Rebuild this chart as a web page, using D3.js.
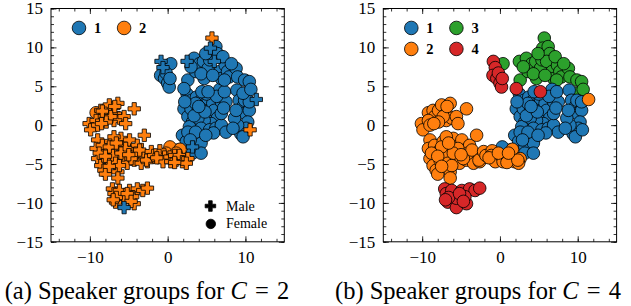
<!DOCTYPE html>
<html>
<head>
<meta charset="utf-8">
<script src="https://cdn.jsdelivr.net/npm/d3@7"></script>
<style>
  body { margin: 0; background: #fff; }
  svg { display: block; }
</style>
</head>
<body>
<svg id="fig" width="631" height="306"></svg>
<script>
const W = 631, H = 306;

const xDomain = [-15, 15];
const yDomain = [-15, 15];
const xMajor = [-10, 0, 10];
const xTickLabels = ['\u221210', '0', '10'];
const yMajor = [-15, -10, -5, 0, 5, 10, 15];
const yTickLabels = ['\u221215', '\u221210', '\u22125', '0', '5', '10', '15'];
const xMinor = d3.range(-14, 15, 2);
const yMinor = d3.range(-15, 16, 1);

const palette = ['#1f77b4', '#ff7f0e', '#2ca02c', '#d62728'];
const captions = ['Speaker groups for ', 'Speaker groups for '];
const captionC = ['2', '4'];

// t-SNE points, grouped by C=4 cluster. rows: [x, y, sex, group for C=2]
const group4_1 = [
  [2.1,2.1,'F',1],[2.5,4.0,'F',1],[3.1,3.2,'F',1],[3.7,3.6,'F',1],[2.6,1.1,'F',1],
  [3.2,0.4,'F',1],[3.0,2.1,'F',1],[3.9,1.7,'F',1],[4.3,3.2,'F',1],[4.7,2.4,'F',1],
  [5.2,3.4,'F',1],[5.4,1.3,'F',1],[5.8,2.8,'F',1],[6.0,1.9,'F',1],[6.7,4.6,'F',1],
  [6.9,3.0,'F',1],[7.5,3.0,'F',1],[6.4,0.9,'F',1],[5.6,0.2,'F',1],[4.7,0.6,'F',1],
  [3.9,0.9,'F',1],[4.3,-0.4,'F',1],[5.4,-0.6,'F',1],[6.2,-0.4,'F',1],[6.9,0.0,'F',1],
  [7.5,-0.9,'F',1],[6.9,1.5,'F',1],[3.6,2.8,'F',1],[2.8,-0.2,'F',1],[2.2,3.0,'F',1],
  [3.4,1.2,'F',1],[4.8,1.7,'F',1],[5.0,4.0,'F',1],[4.0,2.4,'F',1],[6.3,3.7,'F',1],
  [7.3,4.3,'F',1],[4.4,4.3,'F',1],[5.9,-1.0,'F',1],[7.2,2.2,'F',1],
  [8.9,4.5,'F',1],[9.2,3.2,'F',1],[9.7,2.4,'F',1],[9.9,1.5,'F',1],[10.5,1.9,'F',1],
  [10.3,0.4,'F',1],[10.1,-0.4,'F',1],[9.4,-1.1,'F',1],[9.7,-1.5,'F',1],[9.0,0.0,'F',1],
  [8.6,0.9,'F',1],[9.9,3.2,'F',1],[8.8,1.9,'F',1],[8.4,-0.4,'F',1],[10.5,3.0,'F',1],
  [10.6,-0.6,'M',2],
  [1.9,-1.3,'F',1],[2.4,-2.1,'F',1],[3.2,-2.8,'M',1],[4.3,-2.3,'F',1],[3.2,-3.6,'F',1],
  [4.3,-3.6,'F',1],[2.6,-0.9,'F',1],[3.6,-0.9,'F',1],[4.9,-1.3,'F',1],[2.9,-1.9,'F',1],
  [1.3,-3.2,'F',2],[0.3,-2.8,'F',2]
];

const group4_2 = [
  [-10.1,0.2,'M',2],[-9.9,-0.6,'M',2],[-9.2,1.6,'F',2],[-8.6,1.9,'M',2],[-8.4,1.1,'M',2],
  [-7.9,1.9,'M',2],[-7.5,2.6,'M',2],[-6.9,1.5,'M',2],[-6.4,2.8,'M',2],[-6.9,0.6,'M',2],
  [-6.2,0.9,'M',2],[-5.6,1.1,'M',2],[-5.4,0.2,'M',2],[-4.3,2.1,'M',2],[-9.2,0.6,'M',2],
  [-7.3,1.1,'M',2],[-9.0,0.0,'M',2],[-7.9,0.4,'M',2],[-6.8,2.4,'M',2],[-8.5,0.2,'M',2],
  [-9.0,-1.9,'M',2],[-9.2,-3.0,'M',2],[-9.0,-4.3,'M',2],[-8.6,-5.2,'M',2],[-8.2,-5.8,'M',2],
  [-8.4,-2.6,'M',2],[-7.9,-3.4,'M',2],[-7.7,-4.5,'M',2],[-7.3,-2.1,'M',2],[-6.9,-3.0,'M',2],
  [-7.1,-3.9,'M',2],[-6.7,-4.9,'M',2],[-6.4,-6.0,'M',2],[-6.0,-1.7,'M',2],[-5.8,-2.8,'M',2],
  [-5.6,-4.1,'M',2],[-5.2,-4.9,'M',2],[-4.9,-1.9,'M',2],[-4.5,-3.2,'M',2],[-4.3,-4.5,'M',2],
  [-3.9,-2.6,'M',2],[-3.2,-3.9,'M',2],[-3.0,-1.3,'M',2],[-3.4,-4.9,'M',2],[-2.6,-4.7,'M',2],
  [-1.7,-4.1,'M',2],[-6.2,-5.2,'M',2],[-5.4,-3.0,'M',2],[-7.5,-2.8,'M',2],[-4.1,-3.6,'M',2],
  [-8.8,-3.6,'M',2],[-6.9,-1.5,'M',2],[-4.7,-4.3,'M',2],[-3.6,-3.2,'M',2],[-8.0,-6.3,'M',2],
  [-6.4,-6.8,'M',2],[-8.0,-4.0,'M',2],[-6.0,-3.6,'M',2],[-5.0,-3.8,'M',2],[-7.5,-5.3,'M',2],
  [-6.6,-2.3,'M',2],[-2.7,-4.5,'M',2],
  [-2.1,-3.4,'M',2],[-1.8,-3.9,'M',2],[-1.0,-3.3,'M',2],[-1.1,-3.9,'M',2],[-0.4,-4.1,'M',2],
  [-0.6,-4.7,'M',2],[-1.4,-4.2,'M',2],[0.3,-4.1,'M',2],[0.4,-4.7,'M',2],[0.9,-3.9,'M',2],
  [1.1,-4.5,'M',2],[1.5,-3.9,'M',2],[1.9,-4.7,'M',2],[2.6,-4.3,'M',2],[2.4,-4.9,'M',2],
  [0.9,-4.8,'M',2],[-0.2,-3.6,'F',2],[1.6,-3.1,'F',2],[2.3,-4.5,'F',2],[1.1,-3.6,'F',2],
  [11.4,3.3,'M',1]
];

const group4_3 = [
  [2.5,8.2,'M',1],[2.6,5.8,'F',1],[3.4,8.6,'F',1],[3.6,6.9,'F',1],[4.1,7.9,'F',1],
  [4.6,8.2,'F',1],[4.7,6.0,'F',1],[5.2,7.3,'F',1],[5.4,8.4,'F',1],[5.7,11.2,'M',2],
  [5.5,9.9,'M',1],[6.2,10.1,'F',1],[6.4,9.2,'F',1],[6.0,8.2,'M',1],[6.7,6.9,'F',1],
  [6.9,6.0,'F',1],[7.4,7.7,'F',1],[7.7,6.9,'F',1],[7.9,6.2,'F',1],[8.8,7.3,'F',1],
  [9.0,6.2,'F',1],[9.9,5.8,'F',1],[10.5,5.6,'F',1],[9.7,4.1,'F',1],[10.7,4.6,'F',1],
  [4.3,6.6,'F',1],[3.0,7.5,'F',1],[5.8,6.4,'F',1],[7.1,8.8,'F',1],[4.9,9.2,'F',1],
  [8.2,7.9,'F',1],[7.3,5.8,'F',1],[0.4,7.9,'F',1],[-8.4,1.8,'M',2]
];

const group4_4 = [
  [-7.1,-8.2,'M',2],[-6.9,-8.8,'M',2],[-6.7,-9.9,'M',2],[-5.6,-10.6,'M',1],[-6.2,-8.4,'M',2],
  [-4.9,-8.4,'M',2],[-4.3,-10.1,'M',2],[-5.6,-9.4,'M',2],[-3.9,-8.2,'M',2],[-3.2,-8.4,'M',2],
  [-2.6,-8.1,'M',2],[-4.5,-9.2,'M',2],[-6.6,-9.3,'M',2],[-5.2,-8.8,'M',2],[-7.0,-9.6,'M',2],
  [-4.7,-9.8,'M',2],
  [-0.85,8.2,'M',1],[-0.6,7.4,'M',1],[-0.9,6.4,'F',1],[-0.4,6.0,'F',1],[0.0,5.4,'F',1],
  [0.2,4.9,'F',1],[-0.2,6.7,'F',1],[0.3,6.0,'F',1],
  [2.1,4.7,'F',1],[5.2,4.3,'F',1]
];

const points = [];
[group4_1, group4_2, group4_3, group4_4].forEach((grp, k) => {
  grp.forEach(r => points.push({x: r[0], y: r[1], sex: r[2], c2: r[3], c4: k + 1}));
});

const serif = '"Liberation Serif", "Times New Roman", serif';
const plotTop = 8.5, plotSize = 233.3;
const circleR = 6.3;

const svg = d3.select('#fig');

function plusPath(s, a) {
  return `M${-a},${-s}H${a}V${-a}H${s}V${a}H${a}V${s}H${-a}V${a}H${-s}V${-a}H${-a}Z`;
}

function makePanel(x0) {
  const x = d3.scaleLinear().domain(xDomain).range([x0, x0 + plotSize]);
  const y = d3.scaleLinear().domain(yDomain).range([plotTop + plotSize, plotTop]);
  const g = svg.append('g');
  return {x, y, g};
}

function addAxes(p) {
  const {x, y, g} = p;
  const yb = y(yDomain[0]), yt = y(yDomain[1]), xl = x(xDomain[0]), xr = x(xDomain[1]);
  const put = (axis, tr, labels) => {
    const a = g.append('g').attr('transform', tr).call(axis);
    a.select('.domain').remove();
    a.selectAll('line').attr('stroke', '#000').attr('stroke-width', 0.8);
    if (labels) a.selectAll('text').attr('font-family', serif).attr('font-size', 17).attr('fill', '#000');
    else a.selectAll('text').remove();
  };
  put(d3.axisBottom(x).tickValues(xMinor).tickSize(-3), `translate(0,${yb})`, false);
  put(d3.axisTop(x).tickValues(xMinor).tickSize(-3), `translate(0,${yt})`, false);
  put(d3.axisLeft(y).tickValues(yMinor).tickSize(-3), `translate(${xl},0)`, false);
  put(d3.axisRight(y).tickValues(yMinor).tickSize(-3), `translate(${xr},0)`, false);
  put(d3.axisTop(x).tickValues(xMajor).tickSize(-5.5), `translate(0,${yt})`, false);
  put(d3.axisRight(y).tickValues(yMajor).tickSize(-5.5), `translate(${xr},0)`, false);
  put(d3.axisBottom(x).tickValues(xMajor).tickSize(-5.5).tickPadding(9)
      .tickFormat((d, i) => xTickLabels[i]), `translate(0,${yb})`, true);
  put(d3.axisLeft(y).tickValues(yMajor).tickSize(-5.5).tickPadding(8)
      .tickFormat((d, i) => yTickLabels[i]), `translate(${xl},0)`, true);
  g.append('rect').attr('x', xl).attr('y', yt).attr('width', xr - xl).attr('height', yb - yt)
    .attr('fill', 'none').attr('stroke', '#000').attr('stroke-width', 1);
}

function drawMark(sel, d, fill, isPlus, scale) {
  if (isPlus) {
    sel.append('path').attr('d', plusPath(6.2 * scale, 2.1 * scale))
      .attr('transform', `translate(${d[0]},${d[1]})`)
      .attr('fill', fill).attr('stroke', '#000').attr('stroke-width', 0.8);
  } else {
    sel.append('circle').attr('cx', d[0]).attr('cy', d[1]).attr('r', circleR * scale)
      .attr('fill', fill).attr('stroke', '#000').attr('stroke-width', 0.8);
  }
}

function legendEntry(g, cx, cy, color, label) {
  g.append('circle').attr('cx', cx).attr('cy', cy).attr('r', 6.8)
    .attr('fill', color).attr('stroke', '#000').attr('stroke-width', 0.8);
  g.append('text').attr('x', cx + 15).attr('y', cy + 4.8).text(label)
    .attr('font-family', serif).attr('font-weight', 'bold').attr('font-size', 14.5).attr('fill', '#000');
}

function caption(cx, letter, cval) {
  const t = svg.append('text').attr('x', cx).attr('y', 299).attr('text-anchor', 'middle')
    .attr('font-family', serif).attr('font-size', 24.5).attr('fill', '#000');
  t.append('tspan').text(`(${letter}) ${captions[0]}`);
  t.append('tspan').attr('font-style', 'italic').text('C');
  t.append('tspan').text('\u2004=\u2004' + cval);
}

// ---- panel (a): C = 2, marker by sex
const pa = makePanel(51);
const marksA = pa.g.append('g');
const orderA = [['F', 1], ['F', 2], ['M', 2], ['M', 1]];
orderA.forEach(([sex, c]) => {
  points.filter(p => p.sex === sex && p.c2 === c).forEach(p => {
    drawMark(marksA, [pa.x(p.x), pa.y(p.y)], palette[c - 1], sex === 'M', 1);
  });
});
addAxes(pa);
legendEntry(pa.g, pa.x(-11.4), pa.y(12.5), palette[0], '1');
legendEntry(pa.g, pa.x(-5.6), pa.y(12.5), palette[1], '2');
drawMark(pa.g, [pa.x(5.5), pa.y(-10.4)], '#000', true, 0.85);
drawMark(pa.g, [pa.x(5.55), pa.y(-12.7)], '#000', false, 0.75);
pa.g.append('text').attr('x', pa.x(7.5)).attr('y', pa.y(-10.4) + 4.5).text('Male')
  .attr('font-family', serif).attr('font-size', 14).attr('fill', '#000');
pa.g.append('text').attr('x', pa.x(7.5)).attr('y', pa.y(-12.7) + 4.5).text('Female')
  .attr('font-family', serif).attr('font-size', 14).attr('fill', '#000');
caption(147, 'a', captionC[0]);

// ---- panel (b): C = 4
const pb = makePanel(383.3);
const marksB = pb.g.append('g');
[3, 1, 2, 4].forEach(c => {
  points.filter(p => p.c4 === c).forEach(p => {
    drawMark(marksB, [pb.x(p.x), pb.y(p.y)], palette[c - 1], false, 1);
  });
});
addAxes(pb);
legendEntry(pb.g, pb.x(-11.4), pb.y(12.5), palette[0], '1');
legendEntry(pb.g, pb.x(-5.6), pb.y(12.5), palette[2], '3');
legendEntry(pb.g, pb.x(-11.4), pb.y(9.8), palette[1], '2');
legendEntry(pb.g, pb.x(-5.6), pb.y(9.8), palette[3], '4');
caption(478, 'b', captionC[1]);
</script>
</body>
</html>
